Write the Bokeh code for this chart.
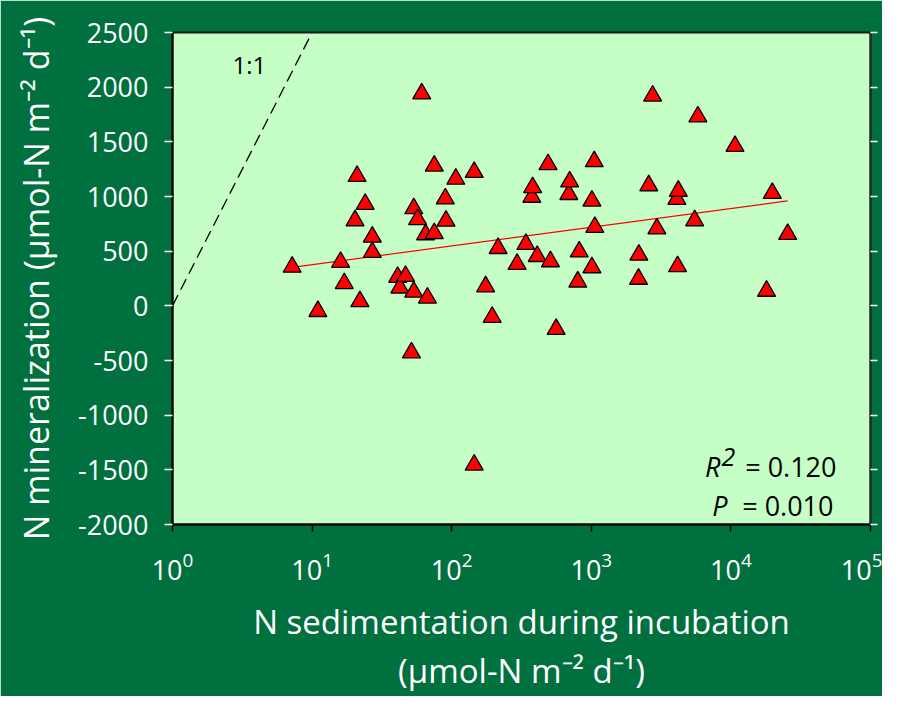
import math
from bokeh.plotting import figure
from bokeh.models import (Range1d, FixedTicker, LinearAxis, Label,
                          CustomJSTickFormatter, ColumnDataSource)
from bokeh.embed import file_html
from bokeh.resources import INLINE

# ---------------- data ----------------
sed_x = [7.2, 11, 16, 17, 20.3, 21, 22, 24, 27, 27,
         41, 42.5, 46.7, 51.5, 53.5, 53.5, 57, 61, 65, 67,
         75, 75, 90, 91, 107, 145, 145, 175, 195, 215,
         294, 340, 375, 380, 410, 490, 510, 560, 690, 700,
         800, 820, 1010, 1010, 1050, 1060, 2180, 2190, 2580, 2750,
         2950, 4100, 4150, 4200, 5500, 5800, 10700, 18000, 19800, 25500]
min_y = [355, -50, 400, 205, 780, 1185, 40, 930, 630, 490,
         262, 165, 272, -428, 890, 127, 790, 1940, 652, 73,
         1280, 663, 980, 776, 1160, 1222, -1455, 176, -103, 526,
         381, 563, 995, 1083, 453, 1293, 405, -214, 1020, 1135,
         220, 495, 960, 350, 1320, 720, 245, 465, 1100, 1920,
         705, 975, 360, 1050, 780, 1730, 1460, 135, 1030, 655]

x_tick_exponents = [0, 1, 2, 3, 4, 5]
y_ticks = [-2000, -1500, -1000, -500, 0, 500, 1000, 1500, 2000, 2500]

fit_slope = 171.0       # per decade of x
fit_intercept = 206.0   # at x = 1
one_to_one_x = [1, 10]
one_to_one_y = [0, 2500]
r2_value = "0.120"
p_value = "0.010"

x_title = "N sedimentation during incubation\n(\u03bcmol-N m\u207b\u00b2 d\u207b\u00b9)"
y_title = "N mineralization (\u03bcmol-N m\u207b\u00b2 d\u207b\u00b9)"

# ---------------- styling ----------------
FONT = "Open Sans"
DARK = "#00703F"
PANEL = "#C6FFC6"

FRAME_L, FRAME_T, FRAME_R, FRAME_B = 172, 32, 870, 525
W, H = 882, 696

p = figure(width=W, height=H, x_axis_type="log",
           x_range=Range1d(1, 1e5), y_range=Range1d(-2000, 2500),
           output_backend="svg", toolbar_location=None,
           min_border_left=FRAME_L, min_border_right=W - FRAME_R,
           min_border_top=FRAME_T, min_border_bottom=H - FRAME_B)
p.border_fill_color = DARK
p.background_fill_color = PANEL
p.outline_line_color = "#1a1a1a"
p.outline_line_width = 2
p.grid.visible = False

# x axis
xa = p.xaxis[0]
xa.ticker = FixedTicker(ticks=[10 ** k for k in x_tick_exponents])
xa.axis_line_color = "black"
xa.axis_line_width = 2
xa.major_tick_line_color = "black"
xa.major_tick_line_width = 1.5
xa.major_tick_out = 7
xa.major_tick_in = 0
xa.minor_tick_line_color = None
xa.major_label_text_color = "white"
xa.major_label_text_font = FONT
xa.major_label_text_font_size = "27px"
xa.major_label_standoff = 20
xa.axis_label = x_title
xa.axis_label_text_color = "white"
xa.axis_label_text_font = FONT
xa.axis_label_text_font_size = "33px"
xa.axis_label_text_font_style = "normal"
xa.axis_label_text_line_height = 1.11
xa.axis_label_standoff = 16

# y axis
ya = p.yaxis[0]
ya.ticker = FixedTicker(ticks=y_ticks)
ya.formatter = CustomJSTickFormatter(code="return tick.toString()")
ya.axis_line_color = "black"
ya.axis_line_width = 2
ya.major_tick_line_color = "white"
ya.major_tick_line_width = 1.5
ya.major_tick_out = 8
ya.major_tick_in = 0
ya.minor_tick_line_color = None
ya.major_label_text_color = "white"
ya.major_label_text_font = FONT
ya.major_label_text_font_size = "27px"
ya.major_label_standoff = 16
ya.axis_label = y_title
ya.axis_label_text_color = "white"
ya.axis_label_text_font = FONT
ya.axis_label_text_font_size = "34px"
ya.axis_label_text_font_style = "normal"
ya.axis_label_standoff = 16

# right axis (ticks only)
ra = LinearAxis(ticker=FixedTicker(ticks=y_ticks),
                formatter=CustomJSTickFormatter(code="return ''"))
ra.axis_line_color = "#2b2b2b"
ra.axis_line_width = 2
ra.major_tick_line_color = "white"
ra.major_tick_line_width = 1.5
ra.major_tick_out = 7
ra.major_tick_in = 0
ra.minor_tick_line_color = None
ra.major_label_text_font_size = "0px"
ra.major_label_standoff = 0
p.add_layout(ra, "right")

# 1:1 line
p.line(one_to_one_x, one_to_one_y, line_color="black", line_width=1.3,
       line_dash="12 6")

# regression line over the data range
line_x = [min(sed_x), max(sed_x)]
line_y = [fit_intercept + fit_slope * math.log10(v) for v in line_x]
p.line(line_x, line_y, line_color="red", line_width=1.2)

# points
src = ColumnDataSource(dict(x=sed_x, y=min_y))
p.scatter("x", "y", source=src, marker="triangle", size=18,
          fill_color="#FF0000", line_color="black", line_width=1.3)


# ---------------- in-plot text (picture coords -> frame screen coords) ----------------
def lab(text, X, Y, size, align="left", style="normal"):
    p.add_layout(Label(x=X - FRAME_L, y=FRAME_B - Y,
                       x_units="screen", y_units="screen",
                       text=text, text_font=FONT, text_font_size=f"{size}px",
                       text_color="black", text_align=align,
                       text_baseline="alphabetic", text_font_style=style))


lab("1:1", 232, 65, 24)
lab("R", 720, 467, 27, align="right", style="italic")
lab("2", 721, 457, 25, style="italic")
lab("= " + r2_value, 836, 467, 27, align="right")
lab("P", 727, 506, 27, align="right", style="italic")
lab("= " + p_value, 833, 506, 27, align="right")

open("out.html", "w").write(file_html(p, INLINE))
